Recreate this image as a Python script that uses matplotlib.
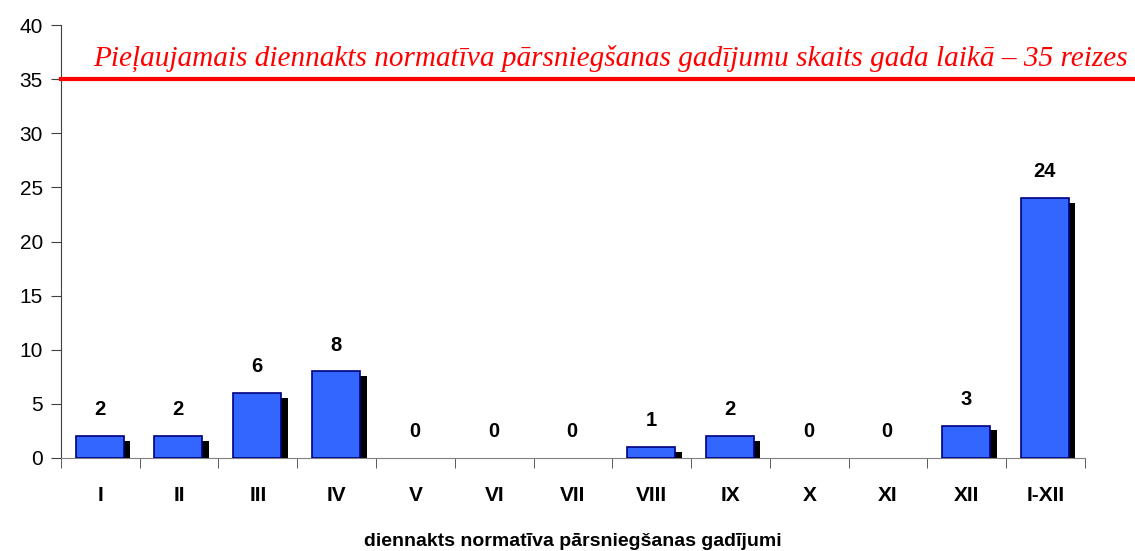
import numpy as np
import matplotlib.pyplot as plt
from matplotlib.ticker import FixedLocator

months = ['I', 'II', 'III', 'IV', 'V', 'VI', 'VII', 'VIII', 'IX', 'X', 'XI', 'XII', 'I-XII']
counts = [2, 2, 6, 8, 0, 0, 0, 1, 2, 0, 0, 3, 24]
limit = 35
limit_text = 'Pieļaujamais diennakts normatīva pārsniegšanas gadījumu skaits gada laikā – 35 reizes'
xlabel = 'diennakts normatīva pārsniegšanas gadījumi'

plt.rcParams['font.family'] = ['Liberation Sans', 'DejaVu Sans']

fig = plt.figure(figsize=(11.35, 5.51), dpi=100)
ax = fig.add_axes([0.0537, 0.1688, 0.9022, 0.7858])

x = np.arange(len(months))
w = 0.61
vals = np.array(counts, dtype=float)

# shadow behind the bars, zero bars are not drawn at all
shadow = np.where(vals > 0, np.maximum(vals - 0.45, 0), 0)
lws = [1.2 if v > 0 else 0 for v in counts]
ax.bar(x + 0.075, shadow, width=w, color='black', zorder=2)
ax.bar(x - 0.01, vals, width=w, color='#3366FF', edgecolor='#000080',
       linewidth=lws, zorder=3)

for xi, v in zip(x, counts):
    ax.annotate(str(v), (xi - 0.01, v), xytext=(0, 19), textcoords='offset points',
                ha='center', va='center', fontsize=14.5, fontweight='bold')

ax.plot([-0.5, 13.13], [limit, limit], color='red', lw=3, clip_on=False, zorder=4)
ax.text(-0.09, limit + 0.7, limit_text, color='red', fontsize=21.1, style='italic',
        family='Liberation Serif', ha='left', va='bottom')

ax.set_xlim(-0.5, len(months) - 0.5)
ax.set_ylim(0, 40)
ax.set_yticks(range(0, 41, 5))
ax.tick_params(axis='y', labelsize=15, length=7, color='#404040', pad=6)

ax.set_xticks(x)
ax.set_xticklabels(months, fontsize=15, fontweight='bold')
ax.tick_params(axis='x', which='major', length=0, pad=20)
ax.xaxis.set_minor_locator(FixedLocator(np.arange(-0.5, len(months), 1.0)))
ax.tick_params(axis='x', which='minor', length=7, color='#404040')
ax.set_xlabel(xlabel, fontsize=14, fontweight='bold', labelpad=20)

for s in ['top', 'right']:
    ax.spines[s].set_visible(False)
ax.spines['left'].set_color('#404040')
ax.spines['bottom'].set_color('#808080')

fig.savefig('out.png', dpi=100)
